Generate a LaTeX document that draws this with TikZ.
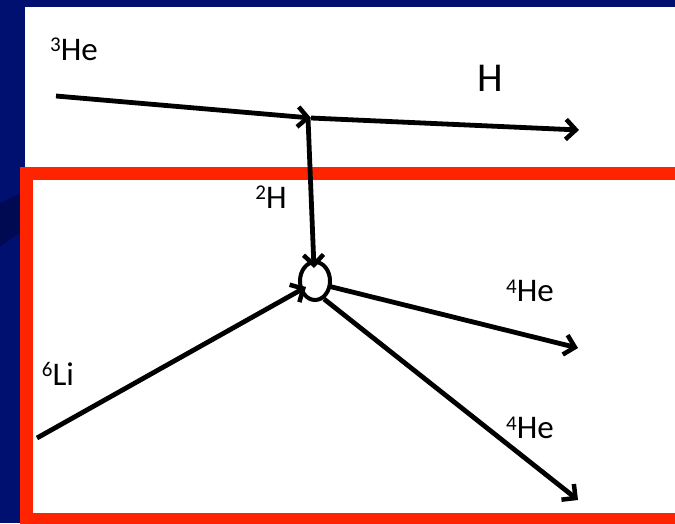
\documentclass[tikz,border=0pt]{standalone}
\usepackage{fontspec}
\setmainfont{Carlito}
\usetikzlibrary{arrows.meta,shapes.geometric}
\definecolor{navy}{RGB}{0,16,112}
\definecolor{navyd}{RGB}{0,10,82}
\definecolor{frame}{RGB}{255,36,0}
\tikzset{
  ray/.style={line width=4.8pt, -{Straight Barb[length=10pt,width=20pt,line width=4.5pt]}, black},
  lbl/.style={font=\fontsize{33}{33}\selectfont, inner sep=0pt},
  big/.style={font=\fontsize{41}{41}\selectfont, inner sep=0pt}
}
\newcommand{\iso}[2]{\raisebox{0.55ex}{\fontsize{21}{21}\selectfont #1}#2}
\begin{document}
\begin{tikzpicture}[x=1pt,y=-1pt]
\useasboundingbox (0,0) rectangle (675,523);
\fill[navy] (0,0) rectangle (675,523);
\fill[navyd] (0,203) -- (25,192) -- (25,230) -- (0,246) -- cycle;
\fill[white] (25,7) rectangle (675,523);
\draw[frame, line width=13pt] (26.5,173.5) rectangle (682,519.5);
% coordinates
\coordinate (heS) at (56,96);
\coordinate (v) at (311,118);
\coordinate (hE) at (579,130);
\node[draw, line width=4pt, ellipse, minimum width=30pt, minimum height=38pt, inner sep=0pt] (c) at (315,281) {};
\coordinate (dE) at (314,268);
\coordinate (liS) at (37,438);
\coordinate (liE) at (306,287);
\coordinate (a1S) at (328,286);
\coordinate (a1E) at (578,348);
\coordinate (a2S) at (324,299);
\coordinate (a2E) at (578,500);
% arrows
\draw[ray] (heS) -- (v);
\draw[ray] (v) -- (hE);
\draw[ray] ([xshift=-3pt]v) -- (dE);
\draw[ray] (liS) -- (liE);
\draw[ray] (a1S) -- (a1E);
\draw[ray] (a2S) -- (a2E);
% labels
\node[lbl] (lhe3) at (74,49) {\iso{3}{He}};
\node[big] (lh) at (490,78) {H};
\node[lbl] (lh2) at (271,197) {\iso{2}{H}};
\node[lbl] (lli) at (58,374) {\iso{6}{Li}};
\node[lbl] (lhe4a) at (530,291) {\iso{4}{He}};
\node[lbl] (lhe4b) at (530,428) {\iso{4}{He}};
\end{tikzpicture}
\end{document}
